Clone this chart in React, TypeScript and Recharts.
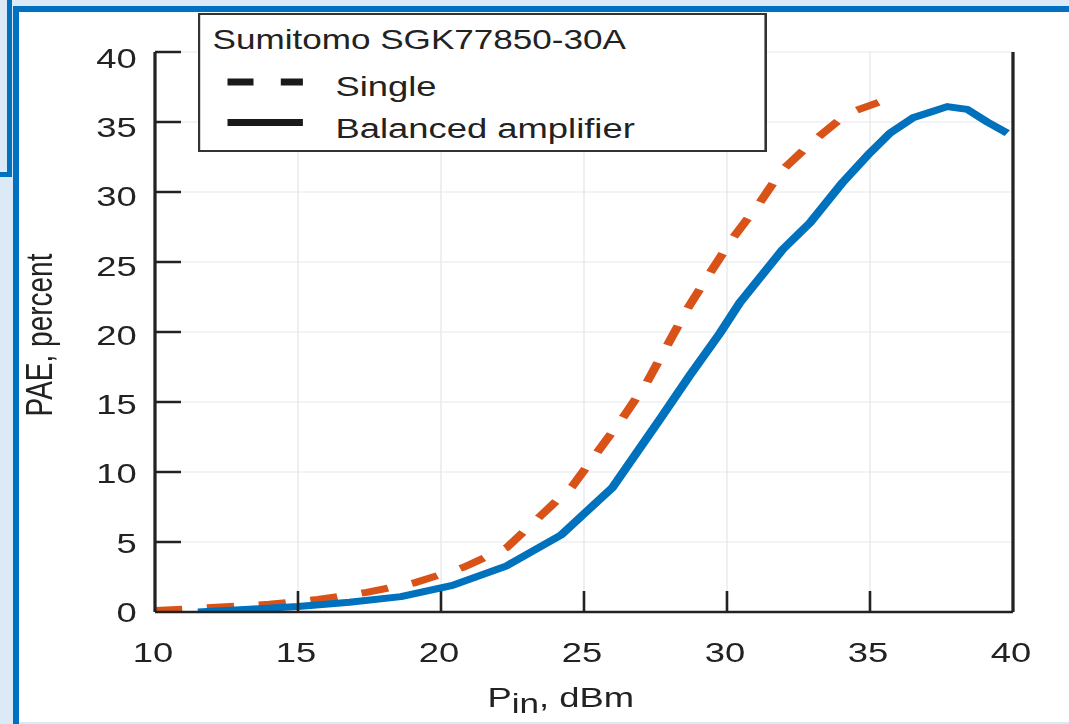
import React from 'react';
import {
  LineChart,
  Line,
  XAxis,
  YAxis,
  CartesianGrid,
  ReferenceLine,
  Legend,
  Label,
} from 'recharts';

// PAE vs input power
const SINGLE_X = [10, 12.3, 14, 15.7, 17.4, 19.1, 20.8, 22.3, 23.5, 24.6, 25.5, 26.4, 27.2, 27.9, 28.6, 29.4, 30.2, 31.1, 31.9, 33.0, 34.2, 35.3];
const SINGLE_Y = [0.1, 0.35, 0.55, 0.9, 1.4, 2.1, 3.2, 4.6, 6.9, 9.0, 11.5, 14.0, 16.4, 19.0, 21.6, 24.2, 26.7, 29.1, 31.5, 33.6, 35.6, 36.4];

const BALANCED_X = [11.5, 13.3, 15, 16.8, 18.6, 20.4, 22.3, 24.2, 26.0, 27.7, 28.7, 29.75, 30.45, 31.95, 32.9, 34.05, 35.0, 35.7, 36.5, 37.1, 37.7, 38.4, 39.1, 39.8];
const BALANCED_Y = [0, 0.2, 0.4, 0.7, 1.1, 1.9, 3.3, 5.5, 8.9, 13.9, 16.9, 19.9, 22.1, 25.9, 27.8, 30.7, 32.8, 34.2, 35.3, 35.7, 36.1, 35.9, 35.0, 34.2];

const X_TICKS = [10, 15, 20, 25, 30, 35, 40];
const Y_TICKS = [0, 5, 10, 15, 20, 25, 30, 35, 40];

const LEGEND_TITLE = 'Sumitomo SGK77850-30A';
const SERIES_NAMES = ['Single', 'Balanced amplifier'];

const singleData = SINGLE_X.map((x, i) => ({ x, y: SINGLE_Y[i] }));
const balancedData = BALANCED_X.map((x, i) => ({ x, y: BALANCED_Y[i] }));

// the source picture is stretched sideways, so the chart is drawn narrow and scaled
const STRETCH = 1.3;
const W = 1069 / STRETCH;
const H = 724;
const PLOT_LEFT = 155 / STRETCH;
const PLOT_RIGHT = 1013 / STRETCH;
const Y_AXIS_W = 80;

const FONT = '"Liberation Sans", Arial, Helvetica, sans-serif';
const INK = '#222';
const BLUE = '#0072bd';
const ORANGE = '#d95319';
const FRAME = '#0070c0';
const PAGE_BG = '#dce9f6';

function YTick(props: any) {
  const { x, y, payload } = props;
  const v = payload.value;
  return (
    <g>
      {v > 0 && <line x1={x} y1={y} x2={x + 20} y2={y} stroke={INK} strokeWidth={2.5} />}
      <text
        x={x - 14}
        y={y + 10 + v * 0.15}
        textAnchor="end"
        fontSize={28}
        fontFamily={FONT}
        fill={INK}
      >
        {v}
      </text>
    </g>
  );
}

function XTick(props: any) {
  const { x, y, payload } = props;
  const v = payload.value;
  return (
    <g>
      {v > 10 && v < 40 && <line x1={x} y1={y} x2={x} y2={y - 21} stroke={INK} strokeWidth={2} />}
      <text x={x - 1.5} y={y + 50} textAnchor="middle" fontSize={28} fontFamily={FONT} fill={INK}>
        {v}
      </text>
    </g>
  );
}

function XTitle() {
  return (
    <text x={375} y={707} fontSize={28} fontFamily={FONT} fill={INK}>
      P
      <tspan dy={6} fontSize={27}>in</tspan>
      <tspan dy={-6}>, dBm</tspan>
    </text>
  );
}

function YTitle() {
  return (
    <text
      transform="translate(40,335) rotate(-90)"
      textAnchor="middle"
      fontSize={28}
      fontFamily={FONT}
      fill={INK}
    >
      PAE, percent
    </text>
  );
}

function BoxLegend() {
  return (
    <svg width={438} height={139} style={{ display: 'block' }}>
      <rect x={1} y={1} width={436} height={137} fill="#fff" stroke="#333" strokeWidth={2} />
      <text x={11.5} y={36} fontSize={27} fontFamily={FONT} fill={INK}>
        {LEGEND_TITLE}
      </text>
      <line x1={23} y1={69} x2={81} y2={69} stroke="#1a1a1a" strokeWidth={7} strokeDasharray="20 21" />
      <text x={106} y={83} fontSize={28} fontFamily={FONT} fill={INK}>
        {SERIES_NAMES[0]}
      </text>
      <line x1={23} y1={109.5} x2={81} y2={109.5} stroke="#1a1a1a" strokeWidth={7} />
      <text x={106} y={125} fontSize={28} fontFamily={FONT} fill={INK}>
        {SERIES_NAMES[1]}
      </text>
    </svg>
  );
}

export default function App() {
  return (
    <div style={{ position: 'fixed', inset: 0, background: PAGE_BG, overflow: 'hidden' }}>
      {/* edge of a neighbouring panel */}
      <div
        style={{
          position: 'absolute',
          left: -20,
          top: -20,
          width: 22,
          height: 187,
          border: `5px solid ${FRAME}`,
        }}
      />
      <div
        style={{
          position: 'absolute',
          left: 13,
          top: 6,
          width: 1100,
          height: 718,
          borderTop: `6px solid ${FRAME}`,
          borderLeft: `6px solid ${FRAME}`,
          background: '#fff',
        }}
      />
      <div style={{ position: 'absolute', left: 19, top: 722, width: 1100, height: 2, background: PAGE_BG }} />

      <div
        style={{
          position: 'absolute',
          left: 0,
          top: 0,
          width: W,
          height: H,
          transform: `scaleX(${STRETCH})`,
          transformOrigin: '0 0',
        }}
      >
        <LineChart
          width={W}
          height={H}
          margin={{ top: 52, right: W - PLOT_RIGHT, bottom: 52, left: PLOT_LEFT - Y_AXIS_W }}
        >
          <CartesianGrid stroke="#e4e7eb" strokeWidth={1} />
          <XAxis
            type="number"
            dataKey="x"
            domain={[10, 40]}
            ticks={X_TICKS}
            allowDataOverflow
            height={60}
            tickSize={0}
            tickMargin={0}
            tickLine={false}
            tick={<XTick />}
            axisLine={{ stroke: INK, strokeWidth: 2.5 }}
          >
            <Label content={<XTitle />} />
          </XAxis>
          <YAxis
            type="number"
            domain={[0, 40]}
            ticks={Y_TICKS}
            allowDataOverflow
            width={Y_AXIS_W}
            tickSize={0}
            tickMargin={0}
            tickLine={false}
            tick={<YTick />}
            axisLine={{ stroke: INK, strokeWidth: 2.5 }}
          >
            <Label content={<YTitle />} />
          </YAxis>
          <ReferenceLine x={40} stroke={INK} strokeWidth={2.5} />
          <Line
            data={singleData}
            dataKey="y"
            name={SERIES_NAMES[0]}
            type="linear"
            stroke={ORANGE}
            strokeWidth={7}
            strokeDasharray="21 19"
            dot={false}
            activeDot={false}
            isAnimationActive={false}
          />
          <Line
            data={balancedData}
            dataKey="y"
            name={SERIES_NAMES[1]}
            type="linear"
            stroke={BLUE}
            strokeWidth={7}
            strokeLinejoin="round"
            dot={false}
            activeDot={false}
            isAnimationActive={false}
          />
          <Legend
            layout="vertical"
            align="center"
            verticalAlign="middle"
            content={() => <BoxLegend />}
            wrapperStyle={{ left: 151.5, top: 13, width: 438, height: 139 }}
          />
        </LineChart>
      </div>
    </div>
  );
}
